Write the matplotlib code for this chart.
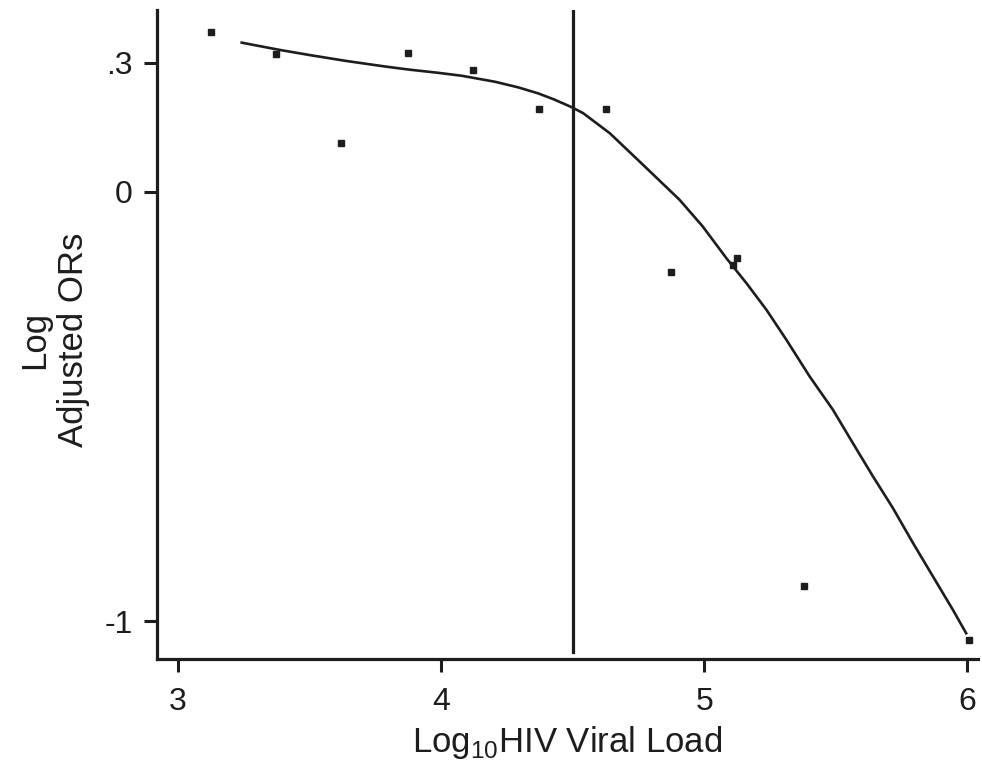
import matplotlib
matplotlib.use("Agg")
import matplotlib.pyplot as plt

plt.rcParams["font.family"] = ["Liberation Sans", "DejaVu Sans"]

ink = "#1e1c1d"

# observed adjusted ORs (log scale) by log10 viral load
load_pts = [3.124, 3.372, 3.620, 3.875, 4.122, 4.372, 4.625, 4.875, 5.110, 5.125, 5.378, 6.005]
logor_pts = [0.371, 0.321, 0.114, 0.324, 0.284, 0.193, 0.192, -0.186, -0.170, -0.155, -0.919, -1.044]

# smoothed curve
curve_x = [3.242, 3.267, 3.387, 3.501, 3.643, 3.792, 3.881, 3.985, 4.077, 4.204, 4.292,
           4.368, 4.428, 4.495, 4.539, 4.641, 4.780, 4.906, 4.994, 5.084, 5.160, 5.236,
           5.312, 5.400, 5.489, 5.565, 5.641, 5.717, 5.793, 5.869, 5.945, 5.995]
curve_y = [0.347, 0.344, 0.330, 0.318, 0.304, 0.291, 0.284, 0.277, 0.270, 0.256, 0.243,
           0.229, 0.215, 0.197, 0.183, 0.136, 0.055, -0.019, -0.081, -0.155, -0.213, -0.275,
           -0.345, -0.430, -0.508, -0.586, -0.663, -0.737, -0.818, -0.896, -0.974, -1.028]

cutoff = 4.5
xticks = [3, 4, 5, 6]
yticks = [0.3, 0, -1]
ytick_labels = [".3", "0", "-1"]

fig = plt.figure(figsize=(9.82, 7.63), dpi=100)
ax = fig.add_axes([157 / 982, 1 - 659 / 763, 821 / 982, 649 / 763])

ax.plot(curve_x, curve_y, color=ink, lw=1.9)
ax.plot(load_pts, logor_pts, ls="none", marker="s", ms=5, color=ink)
ax.axvline(cutoff, ymin=0.011, ymax=1, color=ink, lw=2.3)

ax.set_xlim(2.92, 6.04)
ax.set_ylim(-1.088, 0.423)

ax.set_xticks(xticks)
ax.set_yticks(yticks)
ax.set_yticklabels(ytick_labels)

for s in ["top", "right"]:
    ax.spines[s].set_visible(False)
for s in ["left", "bottom"]:
    ax.spines[s].set_linewidth(2.3)
    ax.spines[s].set_color(ink)

ax.tick_params(axis="both", labelsize=23, length=9.5, width=2.2, pad=8, color=ink, labelcolor=ink)
ax.tick_params(axis="x", pad=10.5)

ax.set_xlabel(r"Log$_{\mathregular{10}}$HIV Viral Load", fontsize=25, color=ink)
ax.xaxis.set_label_coords(0.5, -0.1)
ax.set_ylabel("Log\nAdjusted ORs", fontsize=25, color=ink, multialignment="center")
ax.yaxis.set_label_coords(-0.082, 0.4915)

fig.savefig("out.png", dpi=100)
